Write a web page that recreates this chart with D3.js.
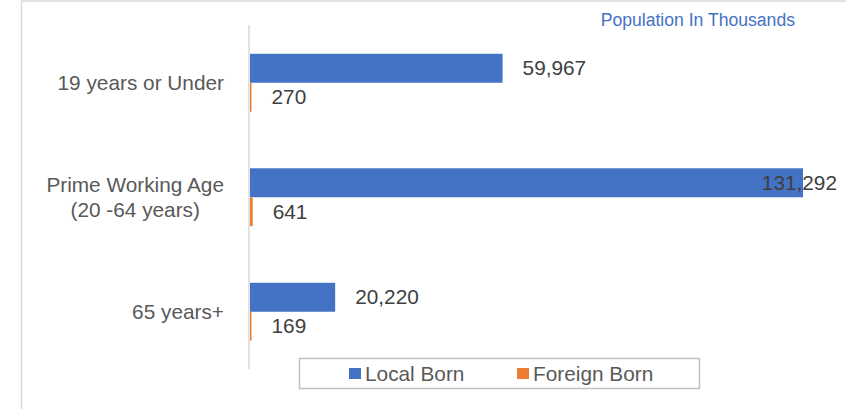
<!DOCTYPE html>
<html>
<head>
<meta charset="utf-8">
<title>Population by age</title>
<script src="https://cdn.jsdelivr.net/npm/d3@7"></script>
<style>
body { margin: 0; background: #fff; }
svg { display: block; font-family: "Liberation Sans", Arial, sans-serif; }
.cat { fill: #595959; font-size: 20.8px; }
.val { fill: #404040; font-size: 20.8px; }
.legend text { fill: #595959; font-size: 20.8px; }
.note { fill: #4472C4; font-size: 17.6px; }
</style>
</head>
<body>
<script>
var categories = [["19 years or Under"], ["Prime Working Age", "(20 -64 years)"], ["65 years+"]];
var seriesNames = ["Local Born", "Foreign Born"];
var localBorn = [59967, 131292, 20220];
var foreignBorn = [270, 641, 169];
var colors = ["#4472C4", "#ED7D31"];

var W = 846, H = 409;
var svg = d3.select("body").append("svg").attr("width", W).attr("height", H);

// chart frame (right and bottom edges fall outside the picture)
svg.append("rect")
  .attr("x", 21.5).attr("y", 1)
  .attr("width", W).attr("height", H)
  .attr("fill", "none").attr("stroke", "#d9d9d9").attr("stroke-width", 1.5);

svg.append("text").attr("class", "note")
  .attr("x", 795).attr("y", 26).attr("text-anchor", "end")
  .text("Population In Thousands");

var keys = categories.map(function(c) { return c.join(" "); });
var rows = keys.map(function(k, i) { return {key: k, values: [localBorn[i], foreignBorn[i]]}; });

var x = d3.scaleLinear().domain([0, d3.max(localBorn)]).range([250, 803]);
var y = d3.scaleBand().domain(keys).range([25.5, 369]).paddingInner(0.494).paddingOuter(0.247);
var ySub = d3.scaleBand().domain([0, 1]).range([0, y.bandwidth()]);

// vertical axis line
svg.append("line")
  .attr("x1", 249).attr("x2", 249)
  .attr("y1", 25).attr("y2", 369)
  .attr("stroke", "#d9d9d9").attr("stroke-width", 1.5);

var g = svg.selectAll("g.row").data(rows).enter().append("g")
  .attr("class", "row")
  .attr("transform", function(d) { return "translate(0," + y(d.key) + ")"; });

g.selectAll("rect").data(function(d) { return d.values; }).enter().append("rect")
  .attr("x", x(0))
  .attr("y", function(d, i) { return ySub(i); })
  .attr("width", function(d) { return Math.max(1.5, x(d) - x(0)); })
  .attr("height", ySub.bandwidth())
  .attr("fill", function(d, i) { return colors[i]; });

var fmt = d3.format(",");
g.selectAll("text.val").data(function(d) { return d.values; }).enter().append("text")
  .attr("class", "val")
  .attr("y", function(d, i) { return ySub(i) + ySub.bandwidth() / 2 + 7; })
  .text(function(d) { return fmt(d); })
  .each(function(d) {
    var t = d3.select(this);
    var px = Math.max(x(d), x(0) + 1.5) + 20;
    var w = this.getComputedTextLength();
    if (px + w > 837) { t.attr("x", 837).attr("text-anchor", "end"); }
    else { t.attr("x", px); }
  });

// category labels
var labels = svg.selectAll("text.cat").data(categories).enter().append("text")
  .attr("class", "cat")
  .attr("transform", function(d, i) {
    var cy = y(keys[i]) + y.bandwidth() / 2;
    return "translate(0," + (cy + 7 - (d.length - 1) * 12.5) + ")";
  });
labels.each(function(d) {
  var t = d3.select(this);
  var tmp = t.append("tspan").text(d[0]);
  var wMax = 0, widths = [];
  tmp.remove();
  d.forEach(function(line) {
    var s = t.append("tspan").text(line);
    var w = s.node().getComputedTextLength();
    widths.push(w); wMax = Math.max(wMax, w);
    s.remove();
  });
  var right = 224;
  d.forEach(function(line, j) {
    t.append("tspan")
      .attr("x", right - wMax / 2)
      .attr("y", j * 25)
      .attr("text-anchor", "middle")
      .text(line);
  });
});

// legend
var lg = svg.append("g").attr("class", "legend");
lg.append("rect")
  .attr("x", 299.5).attr("y", 358.5).attr("width", 400).attr("height", 30)
  .attr("fill", "#fff").attr("stroke", "#bfbfbf").attr("stroke-width", 1.5);
var lx = [349, 517];
seriesNames.forEach(function(name, i) {
  lg.append("rect").attr("x", lx[i]).attr("y", 368).attr("width", 12).attr("height", 11)
    .attr("fill", colors[i]);
  lg.append("text").attr("x", lx[i] + 16).attr("y", 381).text(name);
});
</script>
</body>
</html>
